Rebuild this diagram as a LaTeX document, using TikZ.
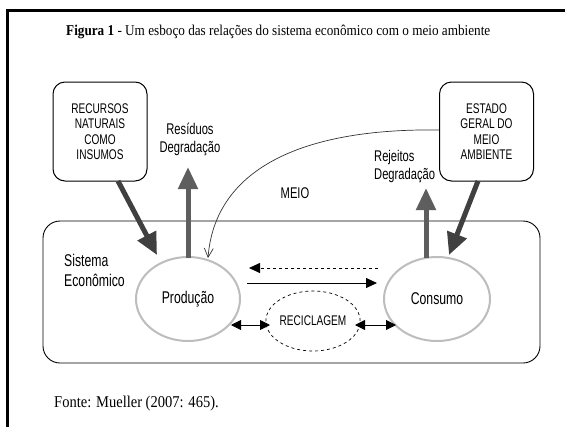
\documentclass[tikz,border=0pt]{standalone}
\usepackage{fontspec}
\setmainfont{Liberation Serif}[FakeStretch=0.88]
\newfontfamily\dsans{Liberation Sans}[FakeStretch=0.72]
\usetikzlibrary{arrows.meta,shapes.geometric}
\definecolor{darkarrow}{HTML}{404040}
\definecolor{midarrow}{HTML}{5E5E5E}
\definecolor{ellgray}{HTML}{BDBDBD}
\tikzset{
  boxnode/.style={draw, line width=1pt, rounded corners=12pt, minimum width=94pt, minimum height=99pt,
    align=center, font=\dsans\fontsize{14}{15.5}\selectfont, inner sep=0pt},
  sysbox/.style={draw, line width=0.9pt, rounded corners=17pt, minimum width=497pt, minimum height=142pt, inner sep=0pt},
  ellnode/.style={ellipse, draw=ellgray, line width=2pt, inner sep=0pt, font=\dsans\fontsize{17}{18}\selectfont},
  recnode/.style={ellipse, draw, dashed, line width=0.7pt, inner sep=0pt, font=\dsans\fontsize{14}{15}\selectfont},
  lbl/.style={font=\dsans\fontsize{15.5}{18}\selectfont, inner sep=0pt},
  bigdark/.style={draw=darkarrow, line width=5pt, -{Triangle[length=22pt,width=20pt]}, color=darkarrow},
  bigmid/.style={draw=midarrow, line width=5pt, -{Triangle[length=22pt,width=19pt]}, color=midarrow},
  flowarrow/.style={line width=0.8pt, -{Triangle[length=11pt,width=10pt]}},
  dblarrow/.style={line width=0.9pt, {Triangle[length=10pt,width=10pt]}-{Triangle[length=10pt,width=10pt]}},
  curvearrow/.style={draw=black!80, line width=0.7pt, -{Straight Barb[length=9pt,width=9pt]}}
}
\begin{document}
\begin{tikzpicture}[x=1pt,y=-1pt]
\useasboundingbox (0,0) rectangle (565,426);
\fill[white] (0,0) rectangle (565,426);
\draw[line width=3pt] (7,427) -- (7,10) -- (566,10);

\node[anchor=west, font=\fontsize{15}{18}\selectfont, inner sep=0pt] (title) at (66,32)
  {\textbf{Figura 1} - Um esboço das relações do sistema econômico com o meio ambiente};

\node[boxnode] (rec) at (100,131.5) {RECURSOS\\NATURAIS\\COMO\\INSUMOS};
\node[boxnode] (est) at (486.5,131.5) {ESTADO\\GERAL DO\\MEIO\\AMBIENTE};

\node[sysbox] (sys) at (291.5,292) {};

\node[ellnode, minimum width=104pt, minimum height=84pt] (prod) at (188,299) {Produção};
\node[ellnode, minimum width=106pt, minimum height=84pt] (cons) at (437,299) {Consumo};
\node[recnode, minimum width=84pt, minimum height=60pt] (recic) at (313,321) {RECICLAGEM};

\node[lbl, align=center] (resid) at (190,139) {Resíduos\\Degradação};
\node[lbl, align=left, anchor=west] (rejei) at (374,166.5) {Rejeitos\\Degradação};
\node[lbl] (meio) at (295,193) {MEIO};
\node[lbl, align=left, anchor=west, font=\dsans\fontsize{17}{20}\selectfont] (sist) at (64,270) {Sistema\\Econômico};

\node[anchor=west, font=\fontsize{16.5}{18}\selectfont, inner sep=0pt] (fonte) at (54,404) {Fonte: Mueller (2007: 465).};

% thick arrows
\coordinate (r1) at (118,181);
\coordinate (r2) at (157,255);
\draw[bigdark] (r1) -- (r2);
\coordinate (e1) at (478,181);
\coordinate (e2) at (449,255);
\draw[bigdark] (e1) -- (e2);
\coordinate (p1) at (188,258);
\coordinate (p2) at (188,167);
\draw[bigmid] (p1) -- (p2);
\coordinate (c1) at (426,258);
\coordinate (c2) at (426,188);
\draw[bigmid] (c1) -- (c2);

% flows
\coordinate (d1) at (378,268);
\coordinate (d2) at (249,268);
\draw[flowarrow, dashed] (d1) -- (d2);
\coordinate (s1) at (247,283);
\coordinate (s2) at (377,283);
\draw[flowarrow] (s1) -- (s2);
\coordinate (l1) at (231,325);
\coordinate (l2) at (270,325);
\draw[dblarrow] (l1) -- (l2);
\coordinate (m1) at (355,325);
\coordinate (m2) at (396,325);
\draw[dblarrow] (m1) -- (m2);

% curve
\coordinate (k2) at (208,258);
\draw[curvearrow] (est.west |- 0,130) .. controls (300,128) and (215,170) .. (k2);
\end{tikzpicture}
\end{document}
